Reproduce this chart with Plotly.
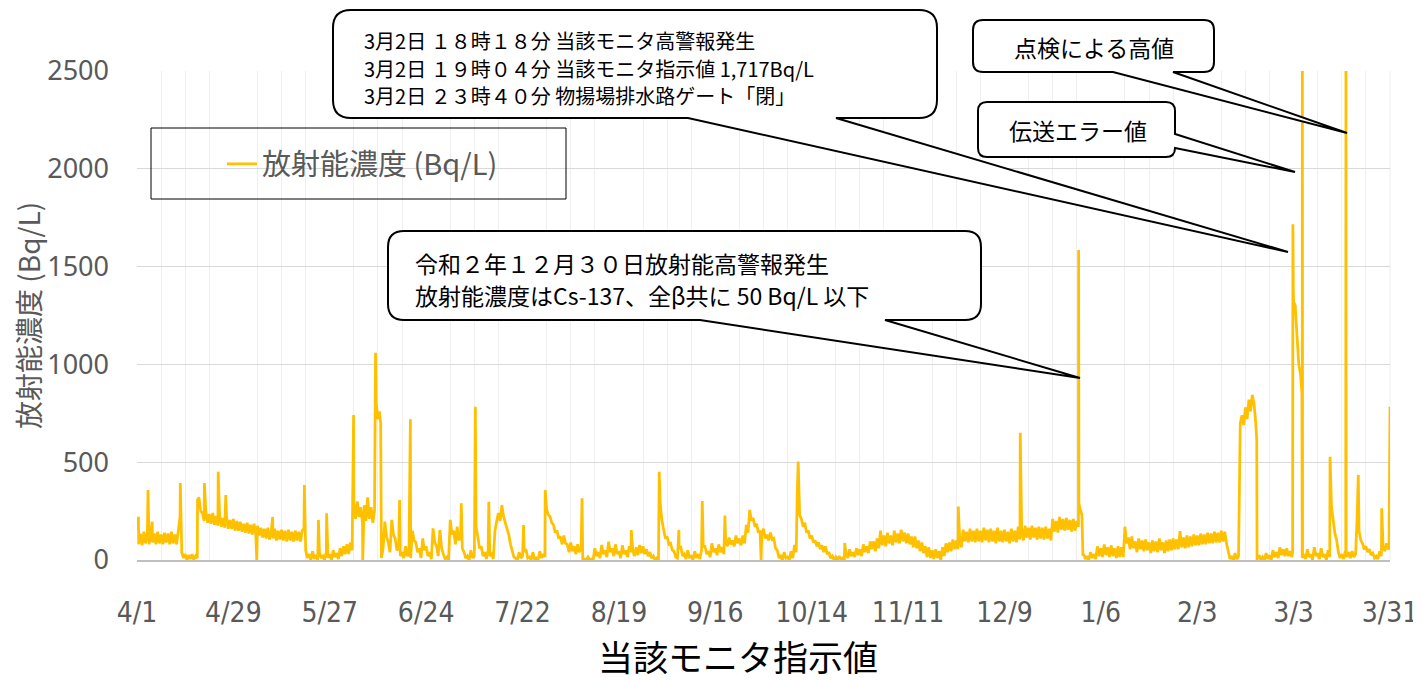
import plotly.graph_objects as go
import pandas as pd

# ---------------- data (Bq/L) ----------------
# two readings per day: "_a" at 00:00 and "_b" at 12:00
month_starts = ["2020-04-01", "2020-05-01", "2020-06-01", "2020-07-01",
                "2020-08-01", "2020-09-01", "2020-10-01", "2020-11-01",
                "2020-12-01", "2021-01-01", "2021-02-01", "2021-03-01"]

apr_a = [150, 135, 145, 130, 140, 135, 145, 130, 140, 135, 145, 130, 140, 40, 30,
         25, 30, 20, 320, 240, 250, 235, 240, 225, 230, 215, 220, 205, 210, 200]
apr_b = [80, 75, 85, 80, 90, 80, 85, 80, 90, 80, 85, 80, 220, 10, 0,
         5, 0, 10, 250, 200, 190, 185, 180, 175, 170, 165, 160, 160, 150, 150]
may_a = [195, 185, 190, 180, 185, 175, 165, 160, 165, 150, 160, 150, 155, 150, 155,
         145, 150, 145, 150, 50, 30, 45, 25, 40, 20, 45, 30, 50, 35, 60, 70]
may_b = [145, 140, 135, 130, 130, 125, 115, 110, 105, 110, 100, 105, 100, 95, 100,
         95, 100, 95, 160, 10, 0, 5, 0, 10, 0, 10, 0, 15, 5, 20, 30]
jun_a = [80, 90, 290, 300, 270, 280, 320, 270, 250, 720, 10, 196, 90, 205, 110,
         60, 40, 70, 30, 150, 90, 60, 110, 70, 40, 162, 70, 153, 30, 15]
jun_b = [30, 50, 210, 220, 190, 200, 210, 190, 780, 740, 60, 120, 40, 130, 50,
         20, 10, 20, 10, 100, 40, 10, 50, 20, 5, 90, 20, 60, 5, 0]
jul_a = [205, 150, 170, 120, 40, 20, 50, 20, 120, 70, 40, 50, 30, 150, 240, 281,
         190, 130, 50, 10, 40, 20, 55, 15, 40, 10, 45, 30, 260, 222, 180]
jul_b = [130, 80, 100, 60, 10, 0, 10, 170, 60, 20, 5, 20, 5, 200, 200, 220,
         150, 80, 15, 0, 10, 40, 10, 0, 5, 0, 10, 15, 230, 190, 140]
aug_a = [150, 120, 125, 80, 90, 70, 80, 60, 5, 15, 5, 60, 40, 77, 50, 94, 60, 80,
         45, 75, 50, 70, 55, 65, 77, 70, 55, 40, 20, 10, 290]
aug_b = [110, 80, 85, 40, 45, 30, 40, 0, 0, 0, 0, 20, 10, 30, 15, 40, 20, 30,
         10, 30, 15, 40, 20, 25, 35, 30, 20, 10, 0, 0, 200]
sep_a = [160, 120, 85, 45, 10, 65, 30, 50, 20, 45, 30, 50, 70, 45, 85, 60, 80, 65,
         105, 115, 100, 125, 110, 125, 180, 256, 215, 185, 150, 160]
sep_b = [110, 80, 50, 15, 60, 20, 5, 15, 0, 10, 5, 70, 30, 15, 40, 25, 40, 30,
         70, 80, 70, 85, 75, 85, 140, 200, 170, 140, 130, 110]
oct_a = [130, 140, 110, 50, 20, 40, 15, 45, 77, 420, 210, 190, 150, 125, 100, 90,
         75, 70, 40, 20, 15, 20, 10, 30, 55, 40, 60, 55, 80, 70, 95]
oct_b = [100, 105, 60, 10, 0, 10, 0, 10, 40, 230, 170, 140, 110, 90, 70, 55,
         40, 30, 10, 0, 0, 5, 0, 10, 20, 15, 25, 20, 40, 35, 55]
nov_a = [95, 110, 150, 125, 140, 125, 150, 135, 155, 140, 135, 120, 120, 100, 90,
         70, 65, 50, 55, 45, 65, 85, 90, 105, 100, 110, 155, 145, 160, 150]
nov_b = [45, 60, 75, 70, 85, 75, 90, 85, 95, 85, 80, 65, 60, 45, 35,
         15, 10, 5, 10, 0, 20, 40, 45, 55, 55, 65, 95, 90, 95, 90]
dec_a = [160, 150, 165, 155, 160, 150, 165, 150, 155, 145, 160, 150, 170, 160, 175,
         165, 175, 165, 170, 165, 170, 160, 210, 200, 220, 210, 215, 205, 210, 200, 260]
dec_b = [95, 90, 100, 90, 95, 85, 95, 90, 95, 85, 95, 90, 105, 100, 115,
         105, 115, 105, 110, 105, 110, 100, 145, 140, 155, 150, 155, 145, 150, 170, 230]
jan_a = [30, 20, 40, 30, 70, 60, 80, 65, 75, 60, 70, 65, 170, 115, 120, 95,
         110, 100, 105, 90, 100, 95, 110, 90, 100, 105, 110, 105, 148, 115, 125]
jan_b = [5, 0, 10, 5, 20, 15, 25, 15, 20, 10, 15, 15, 85, 55, 60, 40,
         55, 45, 50, 35, 45, 40, 50, 35, 45, 50, 55, 55, 65, 60, 65]
feb_a = [120, 130, 125, 135, 130, 140, 135, 145, 140, 150, 145, 40, 20, 35, 20,
         740, 780, 820, 844, 700, 25, 15, 35, 25, 50, 40, 65, 55]
feb_b = [70, 75, 75, 80, 80, 85, 85, 90, 90, 95, 85, 5, 0, 5, 700,
         690, 720, 760, 800, 10, 0, 0, 5, 0, 15, 10, 25, 20]
mar_a = [60, 45, 1320, 1150, 950, 30, 55, 30, 65, 35, 60, 30, 50, 272, 136, 40,
         30, 45, 40, 45, 30, 150, 85, 70, 55, 35, 20, 45, 70, 85, 784]
mar_b = [20, 15, 1300, 1000, 10, 5, 15, 0, 20, 5, 15, 0, 15, 204, 102, 10,
         5, 15, 10, 15, 320, 102, 55, 40, 25, 10, 5, 20, 45, 55]

# short-lived readings between the regular ones
peak_times = ["2020-04-01 10:00", "2020-04-04 05:00", "2020-04-05 10:00",
              "2020-04-13 14:00", "2020-04-18 14:00", "2020-04-20 14:00",
              "2020-04-24 14:00", "2020-04-26 19:00", "2020-05-05 19:00",
              "2020-05-10 10:00", "2020-05-19 13:00", "2020-05-19 15:00",
              "2020-05-23 17:00", "2020-05-26 02:00", "2020-06-02 22:00",
              "2020-06-05 14:00", "2020-06-09 07:00", "2020-06-09 14:00",
              "2020-06-10 10:00", "2020-06-10 19:00", "2020-06-16 07:00",
              "2020-06-19 10:00", "2020-07-04 05:00", "2020-07-08 07:00",
              "2020-07-12 05:00", "2020-07-22 07:00", "2020-07-28 14:00",
              "2020-08-08 07:00", "2020-08-22 14:00", "2020-08-30 17:00",
              "2020-09-05 10:00", "2020-09-12 05:00", "2020-09-18 19:00",
              "2020-09-29 07:00", "2020-10-09 19:00", "2020-10-10 02:00",
              "2020-10-23 14:00", "2020-11-25 14:00", "2020-12-13 14:00",
              "2020-12-30 13:00", "2020-12-30 15:00", "2020-12-31 19:00",
              "2021-02-15 10:00", "2021-02-20 07:00", "2021-02-20 09:00",
              "2021-03-02 17:00", "2021-03-02 18:18", "2021-03-02 19:04",
              "2021-03-02 22:00", "2021-03-03 14:00", "2021-03-04 07:00",
              "2021-03-05 10:00", "2021-03-05 13:00", "2021-03-05 14:30",
              "2021-03-13 14:00", "2021-03-18 03:30", "2021-03-18 05:00",
              "2021-03-18 06:30", "2021-03-21 10:00", "2021-03-21 19:00",
              "2021-03-28 14:00", "2021-03-30 17:00"]
peak_vals = [221, 358, 196, 393, 307, 393, 451, 332, 0, 220, 307, 383, 205, 239,
             741, 0, 1060, 790, 760, 700, 307, 719, 290, 784, 298, 179, 358,
             315, 153, 451, 153, 302, 227, 0, 333, 503, 87, 273, 651, 1585, 290,
             20, 682, 613, 0, 40, 1500, 1717, 1380, 1261, 1049, 852, 3000, 10,
             528, 30, 3000, 30, 204, 435, 264, 60]

series_name = "放射能濃度 (Bq/L)"
y_ticks = [0, 500, 1000, 1500, 2000, 2500]

# ---------------- assemble series ----------------
a_lists = [apr_a, may_a, jun_a, jul_a, aug_a, sep_a, oct_a, nov_a, dec_a, jan_a, feb_a, mar_a]
b_lists = [apr_b, may_b, jun_b, jul_b, aug_b, sep_b, oct_b, nov_b, dec_b, jan_b, feb_b, mar_b]
frames = []
for start, va, vb in zip(month_starts, a_lists, b_lists):
    t0 = pd.Timestamp(start)
    frames.append(pd.DataFrame({"t": pd.date_range(t0, periods=len(va), freq="D"), "v": va}))
    frames.append(pd.DataFrame({"t": pd.date_range(t0 + pd.Timedelta(hours=12),
                                                   periods=len(vb), freq="D"), "v": vb}))
frames.append(pd.DataFrame({"t": pd.to_datetime(peak_times), "v": peak_vals}))
df = pd.concat(frames).sort_values("t", kind="stable").reset_index(drop=True)

# ---------------- layout geometry (window pixels; page body has an 8px offset) ----------------
OFF = 8
WIN_W, WIN_H = 1421, 680
W, H = WIN_W - OFF, WIN_H - OFF
PX0, PX1, PY0, PY1 = 137, 1390, 71, 560          # plot area in window pixels
L, R, T, B = PX0 - OFF, WIN_W - PX1, PY0 - OFF, WIN_H - PY1
PW, PH = PX1 - PX0, PY1 - PY0


def P(x, y):
    return (x - PX0) / PW, (PY1 - y) / PH


def fmt(pt):
    return f"{pt[0]:.5f},{pt[1]:.5f}"


def callout_bottom(x0, y0, x1, y1, r, ba, bb, tip):
    s = "M" + fmt(P(x0 + r, y0))
    s += " L" + fmt(P(x1 - r, y0))
    s += " Q" + fmt(P(x1, y0)) + " " + fmt(P(x1, y0 + r))
    s += " L" + fmt(P(x1, y1 - r))
    s += " Q" + fmt(P(x1, y1)) + " " + fmt(P(x1 - r, y1))
    s += " L" + fmt(P(bb, y1))
    s += " L" + fmt(P(*tip))
    s += " L" + fmt(P(ba, y1))
    s += " L" + fmt(P(x0 + r, y1))
    s += " Q" + fmt(P(x0, y1)) + " " + fmt(P(x0, y1 - r))
    s += " L" + fmt(P(x0, y0 + r))
    s += " Q" + fmt(P(x0, y0)) + " " + fmt(P(x0 + r, y0)) + " Z"
    return s


def callout_right(x0, y0, x1, y1, r, ba, bb, tip):
    s = "M" + fmt(P(x0 + r, y0))
    s += " L" + fmt(P(x1 - r, y0))
    s += " Q" + fmt(P(x1, y0)) + " " + fmt(P(x1, y0 + r))
    s += " L" + fmt(P(x1, ba))
    s += " L" + fmt(P(*tip))
    s += " L" + fmt(P(x1, bb))
    s += " L" + fmt(P(x1, y1 - r))
    s += " Q" + fmt(P(x1, y1)) + " " + fmt(P(x1 - r, y1))
    s += " L" + fmt(P(x0 + r, y1))
    s += " Q" + fmt(P(x0, y1)) + " " + fmt(P(x0, y1 - r))
    s += " L" + fmt(P(x0, y0 + r))
    s += " Q" + fmt(P(x0, y0)) + " " + fmt(P(x0 + r, y0)) + " Z"
    return s


fig = go.Figure()
fig.add_trace(go.Scatter(x=df["t"], y=df["v"], mode="lines", name=series_name,
                         line=dict(color="#FFC000", width=2.75),
                         showlegend=True))

JP = "Noto Sans CJK JP, Noto Sans, sans-serif"
GRAY = "#595959"
day_ms = 86400000

fig.update_layout(
    width=W, height=H,
    margin=dict(l=L, r=R, t=T, b=B, autoexpand=False),
    paper_bgcolor="white", plot_bgcolor="white",
    font=dict(family=JP, color=GRAY),
    showlegend=True,
    legend=dict(x=P(222, 0)[0], y=P(0, 164)[1], xanchor="left", yanchor="middle",
                bgcolor="rgba(0,0,0,0)", borderwidth=0,
                font=dict(size=29, color=GRAY, family=JP)),
    xaxis=dict(type="date", range=["2020-04-01", "2021-03-31"],
               tick0="2020-04-01", dtick=28 * day_ms, tickformat="%-m/%-d",
               showgrid=False, ticks="", ticklabelstandoff=27, automargin=False,
               tickfont=dict(size=28, color=GRAY,
                             family="Liberation Sans Narrow, DejaVu Sans Condensed, sans-serif"),
               minor=dict(tick0="2020-04-01", dtick=7 * day_ms, showgrid=True,
                          gridcolor="#efefef", gridwidth=1),
               showline=True, linecolor="#bfbfbf", linewidth=1.5,
               zeroline=False, fixedrange=True),
    yaxis=dict(range=[0, 2500], tickvals=y_ticks, showgrid=True,
               gridcolor="#d9d9d9", gridwidth=1, zeroline=False, ticks="",
               ticklabelstandoff=27, automargin=False,
               tickfont=dict(size=27, color=GRAY, family="Noto Sans, sans-serif"),
               fixedrange=True),
)

shapes = []
shapes.append(dict(type="line", xref="paper", yref="paper", x0=1, x1=1, y0=0, y1=1,
                   line=dict(color="#efefef", width=1), layer="below"))
lx0, ly0 = P(151, 199)
lx1, ly1 = P(566, 128)
shapes.append(dict(type="rect", xref="paper", yref="paper", x0=lx0, y0=ly0, x1=lx1, y1=ly1,
                   line=dict(color="black", width=1), fillcolor="rgba(0,0,0,0)"))
callouts = [
    callout_bottom(333, 10, 937, 118, 18, 688, 836, (1288, 252)),
    callout_bottom(388, 231, 981, 320, 16, 700, 885, (1080, 378)),
    callout_bottom(973, 20, 1214, 72, 10, 1113, 1173, (1347, 133)),
    callout_right(978, 102, 1175, 157, 9, 134, 148, (1295, 172)),
]
for pth in callouts:
    shapes.append(dict(type="path", xref="paper", yref="paper", path=pth,
                       fillcolor="white", line=dict(color="black", width=2),
                       layer="above"))
fig.update_layout(shapes=shapes)

ann = []


def text_at(x, y, txt, size, anchor="left", color="black", angle=0, family=JP):
    px_, py_ = P(x, y)
    ann.append(dict(x=px_, y=py_, xref="paper", yref="paper", text=txt,
                    showarrow=False, xanchor=anchor, yanchor="middle", align="left",
                    textangle=angle, font=dict(size=size, color=color, family=family)))


text_at(362, 41, "3月2日 １８時１８分 当該モニタ高警報発生", 20)
text_at(362, 68, "3月2日 １９時０４分 当該モニタ指示値 1,717Bq/L", 20)
text_at(362, 95, "3月2日 ２３時４０分 物揚場排水路ゲート「閉」", 20)
text_at(413, 263, "令和２年１２月３０日放射能高警報発生", 23)
text_at(413, 295, "放射能濃度はCs-137、全β共に 50 Bq/L 以下", 23)
text_at(1094, 47, "点検による高値", 23, anchor="center")
text_at(1078, 130, "伝送エラー値", 23, anchor="center")
text_at(28, 316, "放射能濃度 (Bq/L)", 28, anchor="center", color=GRAY, angle=-90)
text_at(738, 655, "当該モニタ指示値", 35, anchor="center", color="black")
fig.update_layout(annotations=ann)

fig.write_html("out.html")
